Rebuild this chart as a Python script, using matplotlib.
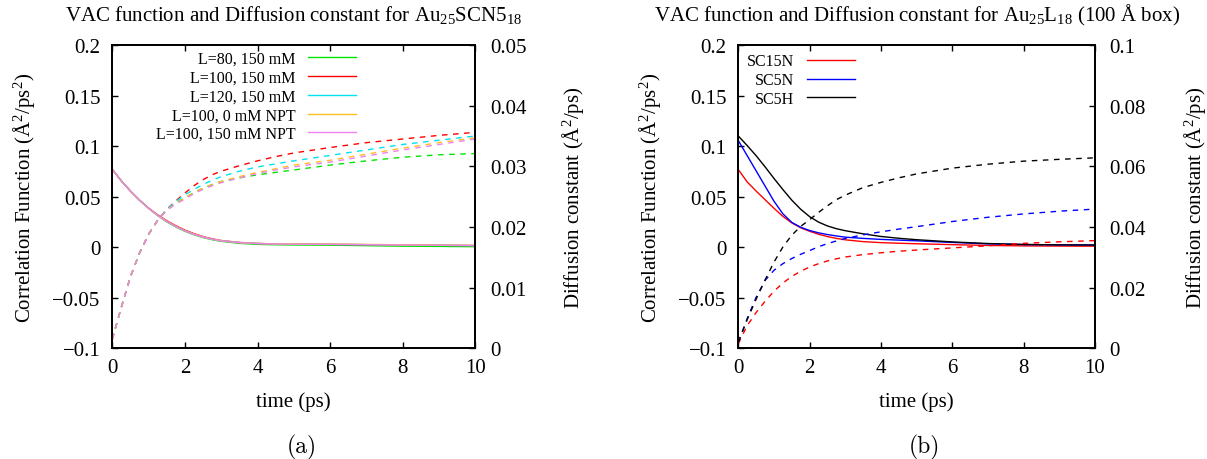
import matplotlib
matplotlib.use("Agg")
import matplotlib.pyplot as plt
from matplotlib.ticker import MultipleLocator, FuncFormatter

plt.rcParams.update({
    "font.family": ["Liberation Serif", "DejaVu Serif"],
    "mathtext.fontset": "custom",
    "mathtext.rm": "Liberation Serif",
    "mathtext.it": "Liberation Serif:italic",
    "mathtext.bf": "Liberation Serif:bold",
    "font.size": 15,
    "axes.linewidth": 1.3,
})

# ---------------- data ----------------
time_ps = [0, 0.25, 0.5, 0.75, 1, 1.25, 1.5, 1.75, 2, 2.25, 2.5, 2.75, 3,
           3.5, 4, 4.5, 5, 6, 7, 8, 9, 10]

# (a) Au25SCN5_18 in different boxes / salt conditions
labels_a = ["L=80, 150 mM", "L=100, 150 mM", "L=120, 150 mM",
            "L=100, 0 mM NPT", "L=100, 150 mM NPT"]
colors_a = ["#00e600", "#ff0000", "#00e2ee", "#ffbf1f", "#ee82ee"]

vac_l80 = [0.077, 0.0655, 0.0555, 0.0465, 0.0385, 0.0313, 0.025, 0.020, 0.0157, 0.0123,
           0.0095, 0.0074, 0.0058, 0.0038, 0.0028, 0.0024, 0.0022, 0.002, 0.0015,
           0.001, 0.0008, 0.0005]
vac_l100 = [0.077, 0.0655, 0.0555, 0.0465, 0.0387, 0.032, 0.0262, 0.0212, 0.0169, 0.0134,
            0.0105, 0.0083, 0.0066, 0.0047, 0.0037, 0.0032, 0.003, 0.0028, 0.0025,
            0.0022, 0.0019, 0.0016]
vac_l120 = [0.077, 0.0655, 0.0555, 0.0465, 0.0385, 0.0315, 0.0255, 0.0205, 0.0162, 0.0128,
            0.010, 0.0079, 0.0063, 0.0045, 0.0036, 0.0032, 0.003, 0.0028, 0.0025,
            0.0022, 0.0019, 0.0016]
vac_l100_npt0 = [0.077, 0.0655, 0.0555, 0.0465, 0.0385, 0.0315, 0.0255, 0.0205, 0.0162,
                 0.0128, 0.010, 0.0079, 0.0063, 0.0045, 0.0036, 0.0033, 0.0032, 0.003,
                 0.0027, 0.0024, 0.002, 0.0017]
vac_l100_npt150 = [0.077, 0.0655, 0.0555, 0.0465, 0.0385, 0.0315, 0.0255, 0.0205, 0.0162,
                   0.0128, 0.010, 0.0079, 0.0063, 0.0045, 0.0036, 0.0032, 0.003, 0.0028,
                   0.0025, 0.0022, 0.0019, 0.0016]

dif_l80 = [0.0015, 0.0068, 0.0118, 0.0157, 0.0188, 0.0211, 0.0229, 0.024, 0.0248, 0.0257,
           0.0264, 0.027, 0.0275, 0.0281, 0.0286, 0.029, 0.0294, 0.0302, 0.0309, 0.0315,
           0.0319, 0.0321]
dif_l100 = [0.0015, 0.0068, 0.0118, 0.0157, 0.0188, 0.0211, 0.0229, 0.0243, 0.0256, 0.0268,
            0.0278, 0.0286, 0.0292, 0.0301, 0.0309, 0.0316, 0.0322, 0.0331, 0.0339, 0.0345,
            0.0351, 0.0356]
dif_l120 = [0.0015, 0.0068, 0.0118, 0.0157, 0.0188, 0.0211, 0.0229, 0.0242, 0.0253, 0.0262,
            0.027, 0.0277, 0.0283, 0.0292, 0.0299, 0.0304, 0.0309, 0.0318, 0.0327, 0.0336,
            0.0343, 0.035]
dif_l100_npt0 = [0.0015, 0.0068, 0.0118, 0.0157, 0.0188, 0.0211, 0.0228, 0.0239, 0.0248,
                 0.0257, 0.0264, 0.027, 0.0275, 0.0283, 0.029, 0.0296, 0.0302, 0.031,
                 0.032, 0.033, 0.0339, 0.0347]
dif_l100_npt150 = [0.0015, 0.0068, 0.0118, 0.0157, 0.0188, 0.0211, 0.0227, 0.0238, 0.0246,
                   0.0255, 0.0262, 0.0268, 0.0273, 0.0281, 0.0288, 0.0294, 0.0299, 0.0307,
                   0.0317, 0.0327, 0.0336, 0.0345]

vac_a = [vac_l80, vac_l100, vac_l120, vac_l100_npt0, vac_l100_npt150]
dif_a = [dif_l80, dif_l100, dif_l120, dif_l100_npt0, dif_l100_npt150]

# (b) Au25L18 with different ligands, 100 A box
labels_b = ["SC15N", "SC5N", "SC5H"]
colors_b = ["#ff0000", "#0000ff", "#000000"]

vac_sc15n = [0.0768, 0.0645, 0.0555, 0.047, 0.0385, 0.0305, 0.024, 0.0192, 0.0157, 0.0128,
             0.0105, 0.0087, 0.0073, 0.0055, 0.0045, 0.0039, 0.0034, 0.0025, 0.0017,
             0.0013, 0.0011, 0.001]
vac_sc5n = [0.1055, 0.0905, 0.0755, 0.0605, 0.0455, 0.033, 0.0245, 0.0197, 0.0165, 0.0142,
            0.0125, 0.0111, 0.0099, 0.0087, 0.0077, 0.007, 0.0063, 0.0047, 0.0033, 0.0026,
            0.0023, 0.0022]
vac_sc5h = [0.110, 0.1005, 0.0905, 0.0795, 0.068, 0.057, 0.0465, 0.0375, 0.0302, 0.0248,
            0.021, 0.0183, 0.0163, 0.0132, 0.0106, 0.0088, 0.0074, 0.0052, 0.0036, 0.0027,
            0.0023, 0.0021]

dif_sc15n = [0.0015, 0.0075, 0.0118, 0.0155, 0.0188, 0.0215, 0.0237, 0.0254, 0.0268, 0.0279,
             0.0288, 0.0295, 0.0301, 0.0309, 0.0315, 0.032, 0.0324, 0.0331, 0.0338, 0.0346,
             0.0351, 0.0355]
dif_sc5n = [0.002, 0.0098, 0.0168, 0.0224, 0.0257, 0.0279, 0.0296, 0.031, 0.0322, 0.0335,
            0.0345, 0.0354, 0.0362, 0.0374, 0.0384, 0.0393, 0.0401, 0.0418, 0.0432, 0.0443,
            0.0452, 0.0459]
dif_sc5h = [0.002, 0.0095, 0.0162, 0.0225, 0.0284, 0.0334, 0.0373, 0.0402, 0.0424, 0.0448,
            0.047, 0.049, 0.0505, 0.053, 0.0547, 0.0562, 0.0575, 0.0594, 0.0607, 0.0617,
            0.0623, 0.0628]

vac_b = [vac_sc15n, vac_sc5n, vac_sc5h]
dif_b = [dif_sc15n, dif_sc5n, dif_sc5h]


def tick_fmt(v, pos):
    s = f"{round(v, 6):g}"
    if s == "-0":
        s = "0"
    return s.replace("-", "\u2212")


fmt = FuncFormatter(tick_fmt)
PT = 72.0 / 100.0  # points per pixel at 100 dpi


def make_panel(ax, vac, dif, labels, colors, dmax, dstep, title, legend_anchor,
               ylab_x, ylab2_x):
    twin = ax.twinx()
    lines = []
    for y, lab, c in zip(vac, labels, colors):
        ln, = ax.plot(time_ps, y, color=c, lw=1.0, label=lab)
        lines.append(ln)
    for y, c in zip(dif, colors):
        twin.plot(time_ps, y, color=c, lw=1.0, linestyle=(0, (4.0, 4.0)))

    ax.set_xlim(0, 10)
    ax.set_ylim(-0.1, 0.2)
    twin.set_ylim(0, dmax)
    ax.xaxis.set_major_locator(MultipleLocator(2))
    ax.yaxis.set_major_locator(MultipleLocator(0.05))
    twin.yaxis.set_major_locator(MultipleLocator(dstep))
    ax.yaxis.set_major_formatter(fmt)
    twin.yaxis.set_major_formatter(fmt)

    ax.tick_params(axis="x", direction="in", top=True, bottom=True,
                   length=6 * PT, width=1.0, labelsize=15, pad=7)
    ax.tick_params(axis="y", direction="in", left=True, right=False,
                   length=6 * PT, width=1.0, labelsize=15, pad=8.5)
    twin.tick_params(axis="y", direction="in", right=True,
                     length=6 * PT, width=1.0, labelsize=15, pad=10.5)
    for sp in twin.spines.values():
        sp.set_linewidth(1.3)

    ax.set_xlabel("time (ps)", fontsize=15)
    ax.xaxis.label.set_va("center")
    ax.xaxis.set_label_coords(0.5, -0.175)

    ax.set_ylabel("Correlation Function (Å$^2$/ps$^2$)", fontsize=15)
    ax.yaxis.label.set_va("center")
    ax.yaxis.set_label_coords(ylab_x, 0.5)

    twin.set_ylabel("Diffusion constant (Å$^2$/ps)", fontsize=15, rotation=90)
    twin.yaxis.label.set_va("center")
    twin.yaxis.set_label_coords(ylab2_x, 0.5)

    ax.set_title(title, fontsize=15, pad=18)

    leg = twin.legend(handles=lines, labels=labels, loc="upper right",
                      bbox_to_anchor=legend_anchor, frameon=False,
                      markerfirst=False, fontsize=11.5, handlelength=3.0,
                      handletextpad=0.8, labelspacing=0.17,
                      borderpad=0.0, borderaxespad=0.0)
    for col in leg._legend_handle_box.get_children():
        col.align = "right"
    return twin


fig = plt.figure(figsize=(12.07, 4.6), dpi=100)
ax_a = fig.add_axes([0.09304, 0.2407, 0.30075, 0.6593])
ax_b = fig.add_axes([0.61168, 0.2407, 0.29553, 0.6593])

make_panel(ax_a, vac_a, dif_a, labels_a, colors_a, 0.05, 0.01,
           "VAC function and Diffusion constant for Au$_{25}$SCN5$_{18}$",
           (0.671, 0.98), -0.243, 1.269)
make_panel(ax_b, vac_b, dif_b, labels_b, colors_b, 0.1, 0.02,
           "VAC function and Diffusion constant for Au$_{25}$L$_{18}$ (100 Å box)",
           (0.327, 0.972), -0.2476, 1.281)

fig.text(0.2502, 0.028, "(a)", family="cmr10", fontsize=17, ha="center", va="center")
fig.text(0.7655, 0.028, "(b)", family="cmr10", fontsize=17, ha="center", va="center")

fig.savefig("out.png", dpi=100)
